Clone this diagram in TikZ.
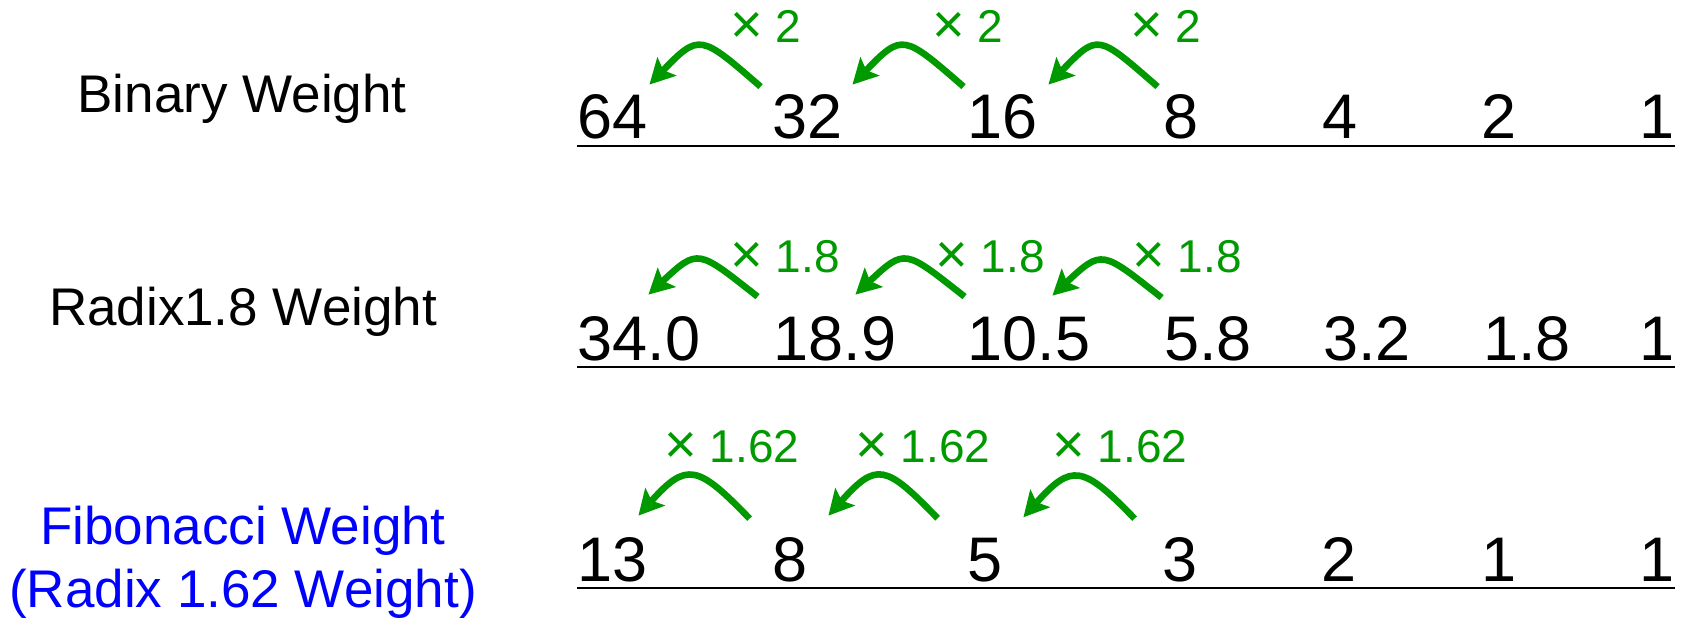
\documentclass[tikz,border=0pt]{standalone}
\usepackage{fontspec}
\setmainfont{Liberation Sans}
\usepackage{tikz}
\usetikzlibrary{arrows.meta}

\definecolor{multgreen}{RGB}{0,153,0}
\definecolor{fibblue}{RGB}{0,0,255}
\newcommand{\timessign}{{\fontsize{28}{30}\selectfont\raisebox{-0.8pt}{×}}}

\begin{document}
\begin{tikzpicture}[
    x=0.5pt, y=-0.5pt,
    title/.style={font=\fontsize{26.5}{31.5}\selectfont, inner sep=0pt, anchor=base, align=center},
    weight/.style={font=\fontsize{31.5}{37}\selectfont, inner sep=0pt, anchor=base},
    factor/.style={font=\fontsize{23}{27}\selectfont, text=multgreen, inner sep=0pt, anchor=base},
    mult/.style={-{Stealth[length=12.5pt, width=13pt, inset=2.5pt]}, line width=3.3pt, draw=multgreen},
    rule/.style={line width=1.4pt},
]
    \useasboundingbox (0,0) rectangle (1682,617);

    % binary row
    \node[title] (tbin) at (242,112) {Binary Weight};
    \node[weight] (b64) at (613,138) {64};
    \node[weight] (b32) at (808,138) {32};
    \node[weight] (b16) at (1003,138) {16};
    \node[weight] (b8) at (1181,138) {8};
    \node[weight] (b4) at (1340,138) {4};
    \node[weight] (b2) at (1499,138) {2};
    \node[weight] (b1) at (1657,138) {1};
    \coordinate (bl) at (577,146);
    \coordinate (br) at (1675,146);
    \draw[rule] (bl) -- (br);

    \node[factor] (xb1) at (766,42) {\timessign\ 2};
    \node[factor] (xb2) at (968,42) {\timessign\ 2};
    \node[factor] (xb3) at (1166,42) {\timessign\ 2};
    \draw[mult] ([shift={(-12,-7)}]b32.north west) .. controls +(-60,-52) and +(50,-52) .. ([shift={(1,-9)}]b64.north east);
    \draw[mult] ([shift={(-4,-7)}]b16.north west) .. controls +(-60,-52) and +(50,-52) .. ([shift={(9,-9)}]b32.north east);
    \draw[mult] ([shift={(-5.5,-7)}]b8.north west) .. controls +(-60,-52) and +(50,-52) .. ([shift={(10,-9)}]b16.north east);

    % radix 1.8 row
    \node[title] (trad) at (243,325) {Radix1.8 Weight};
    \node[weight] (r340) at (639,360) {34.0};
    \node[weight] (r189) at (835,360) {18.9};
    \node[weight] (r105) at (1029,360) {10.5};
    \node[weight] (r58) at (1208,360) {5.8};
    \node[weight] (r32) at (1367,360) {3.2};
    \node[weight] (r18) at (1527,360) {1.8};
    \node[weight] (r1) at (1657,360) {1};
    \coordinate (rl) at (577,367);
    \coordinate (rr) at (1675,367);
    \draw[rule] (rl) -- (rr);

    \node[factor] (xr1) at (785,272) {\timessign\ 1.8};
    \node[factor] (xr2) at (990,272) {\timessign\ 1.8};
    \node[factor] (xr3) at (1187,272) {\timessign\ 1.8};
    \draw[mult] ([shift={(-15.7,-19)}]r189.north west) .. controls +(-60,-47) and +(50,-47) .. ([shift={(-52.3,-21)}]r340.north east);
    \draw[mult] ([shift={(-2.7,-19)}]r105.north west) .. controls +(-60,-47) and +(50,-47) .. ([shift={(-41.3,-21)}]r189.north east);
    \draw[mult] ([shift={(-2.2,-18)}]r58.north west) .. controls +(-60,-47) and +(50,-47) .. ([shift={(-38.3,-20)}]r105.north east);

    % fibonacci row
    \node[title, text=fibblue] (tfib) at (243,607) {Fibonacci Weight\\(Radix 1.62 Weight)};
    \node[weight] (f13) at (613,581) {13};
    \node[weight] (f8) at (790,581) {8};
    \node[weight] (f5) at (985,581) {5};
    \node[weight] (f3) at (1180,581) {3};
    \node[weight] (f2) at (1339,581) {2};
    \node[weight] (f1a) at (1499,581) {1};
    \node[weight] (f1b) at (1657,581) {1};
    \coordinate (fl) at (577,588);
    \coordinate (fr) at (1675,588);
    \draw[rule] (fl) -- (fr);

    \node[factor] (xf1) at (732,462) {\timessign\ 1.62};
    \node[factor] (xf2) at (923,462) {\timessign\ 1.62};
    \node[factor] (xf3) at (1120,462) {\timessign\ 1.62};
    \draw[mult] ([shift={(-22.5,-18)}]f8.north west) .. controls +(-52,-54) and +(48,-54) .. ([shift={(-10,-21)}]f13.north east);
    \draw[mult] ([shift={(-29.5,-19)}]f5.north west) .. controls +(-52,-54) and +(48,-54) .. ([shift={(20.5,-21)}]f8.north east);
    \draw[mult] ([shift={(-27.5,-18)}]f3.north west) .. controls +(-52,-54) and +(48,-54) .. ([shift={(20.5,-20)}]f5.north east);
\end{tikzpicture}
\end{document}
